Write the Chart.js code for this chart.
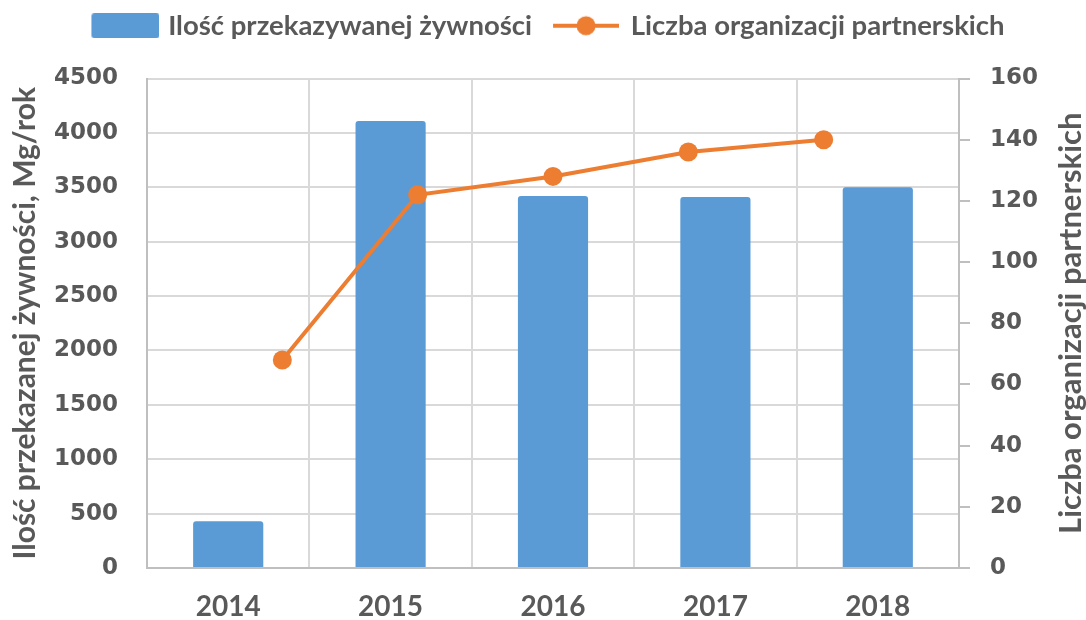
<!DOCTYPE html>
<html lang="pl">
<head>
<meta charset="utf-8">
<title>Ilość przekazywanej żywności</title>
<script src="https://cdn.jsdelivr.net/npm/chart.js@4/dist/chart.umd.min.js"></script>
<style>
  html, body { margin: 0; padding: 0; background: #ffffff; }
  #wykres { display: block; }
</style>
</head>
<body>
<canvas id="wykres" width="1086" height="620"></canvas>
<script>
// --- DANE ---
const YEARS = ['2014', '2015', '2016', '2017', '2018'];
const FOOD_MG = [430, 4110, 3420, 3410, 3500];
const PARTNERS = [68, 122, 128, 136, 140];
// druga oś kategorii dla linii (punkty na granicach 6 przedziałów)
const LINE_SLOTS = ['', '2014', '2015', '2016', '2017', '2018', ''];
const FOOD_TICKS = [0, 500, 1000, 1500, 2000, 2500, 3000, 3500, 4000, 4500];
const PARTNER_TICKS = [0, 20, 40, 60, 80, 100, 120, 140, 160];

const BAR_LABEL = 'Ilość przekazywanej żywności';
const LINE_LABEL = 'Liczba organizacji partnerskich';
const LEFT_TITLE = 'Ilość przekazanej żywności, Mg/rok';
const RIGHT_TITLE = 'Liczba organizacji partnerskich';

// --- KOLORY ---
const BLUE = '#5b9bd5';
const ORANGE = '#ed7d31';
const TEXT = '#595959';
const GRID = '#d9d9d9';
const AXIS = '#bfbfbf';

// --- IKONY LEGENDY ---
function makeIcon(w, h, draw) {
    const c = document.createElement('canvas');
    c.width = w;
    c.height = h;
    draw(c.getContext('2d'));
    return c;
}

const barIcon = makeIcon(83, 25, (ctx) => {
    ctx.fillStyle = BLUE;
    ctx.beginPath();
    ctx.roundRect(15, 0, 68, 25, 3);
    ctx.fill();
});

const lineIcon = makeIcon(77, 22, (ctx) => {
    ctx.strokeStyle = ORANGE;
    ctx.lineWidth = 4;
    ctx.beginPath();
    ctx.moveTo(11, 11);
    ctx.lineTo(77, 11);
    ctx.stroke();
    ctx.fillStyle = ORANGE;
    ctx.beginPath();
    ctx.arc(44, 11, 9.5, 0, Math.PI * 2);
    ctx.fill();
});

// --- TYTUŁ PRAWEJ OSI (czytany od dołu do góry) ---
const rightTitle = {
    id: 'rightTitle',
    afterDraw(chart) {
        const s = chart.scales.y1;
        const ctx = chart.ctx;
        ctx.save();
        ctx.translate(s.right - 15, (s.top + s.bottom) / 2);
        ctx.rotate(-Math.PI / 2);
        ctx.font = 'bold 31px Lato';
        ctx.fillStyle = TEXT;
        ctx.textAlign = 'center';
        ctx.textBaseline = 'middle';
        ctx.fillText(RIGHT_TITLE, 0, 0);
        ctx.restore();
    }
};

// --- WYKRES ---
const ctx = document.getElementById('wykres').getContext('2d');
new Chart(ctx, {
    type: 'bar',
    data: {
        labels: YEARS,
        datasets: [
            {
                type: 'bar',
                label: BAR_LABEL,
                data: FOOD_MG,
                backgroundColor: BLUE,
                borderRadius: 3,
                grouped: false,
                barPercentage: 0.432,
                categoryPercentage: 1,
                xAxisID: 'x',
                yAxisID: 'y',
                order: 2
            },
            {
                type: 'line',
                label: LINE_LABEL,
                data: [null, ...PARTNERS, null],
                borderColor: ORANGE,
                backgroundColor: ORANGE,
                borderWidth: 4,
                pointRadius: 9.5,
                pointHoverRadius: 9.5,
                pointBorderWidth: 0,
                xAxisID: 'x2',
                yAxisID: 'y1',
                order: 1
            }
        ]
    },
    options: {
        responsive: false,
        animation: false,
        devicePixelRatio: 1,
        layout: { padding: 0 },
        plugins: {
            tooltip: { enabled: false },
            legend: {
                position: 'top',
                labels: {
                    usePointStyle: true,
                    pointStyleWidth: 73,
                    padding: 12,
                    color: TEXT,
                    font: { family: 'Lato', size: 27.5, weight: 'bold' },
                    generateLabels: () => [
                        { text: BAR_LABEL, pointStyle: barIcon, fontColor: TEXT, lineWidth: 0, hidden: false, datasetIndex: 0 },
                        { text: LINE_LABEL, pointStyle: lineIcon, fontColor: TEXT, lineWidth: 0, hidden: false, datasetIndex: 1 }
                    ]
                }
            }
        },
        scales: {
            x: {
                position: 'bottom',
                offset: true,
                grid: { color: GRID, lineWidth: 2, offset: true, drawTicks: false },
                border: { color: AXIS, width: 2 },
                ticks: {
                    color: TEXT,
                    padding: 22,
                    font: { family: 'Lato', size: 28, weight: 'bold' }
                },
                afterFit: (s) => { s.height = 52; }
            },
            x2: {
                type: 'category',
                labels: LINE_SLOTS,
                position: 'top',
                offset: false,
                grid: { display: false, drawTicks: false },
                border: { display: false },
                ticks: { display: false },
                afterFit: (s) => { s.height = 77 - 48; }
            },
            y: {
                position: 'left',
                min: 0,
                max: 4500,
                afterBuildTicks: (s) => { s.ticks = FOOD_TICKS.map(v => ({ value: v })); },
                grid: { color: GRID, lineWidth: 2, drawTicks: false },
                border: { color: AXIS, width: 2 },
                ticks: {
                    color: TEXT,
                    padding: 29,
                    callback: (v) => String(v),
                    font: { family: 'DejaVu Sans', size: 23, weight: 'bold' }
                },
                title: {
                    display: true,
                    text: LEFT_TITLE,
                    color: TEXT,
                    padding: { top: 7, bottom: 0 },
                    font: { family: 'Lato', size: 30, weight: 'bold' }
                },
                afterFit: (s) => { s.width = 147; }
            },
            y1: {
                position: 'right',
                min: 0,
                max: 160,
                afterBuildTicks: (s) => { s.ticks = PARTNER_TICKS.map(v => ({ value: v })); },
                grid: { drawOnChartArea: false, drawTicks: true, tickLength: 11, color: AXIS, lineWidth: 2 },
                border: { color: AXIS, width: 2 },
                ticks: {
                    color: TEXT,
                    padding: 20,
                    callback: (v) => String(v),
                    font: { family: 'DejaVu Sans', size: 23, weight: 'bold' }
                },
                afterFit: (s) => { s.width = 127; }
            }
        }
    },
    plugins: [rightTitle]
});
</script>
</body>
</html>
